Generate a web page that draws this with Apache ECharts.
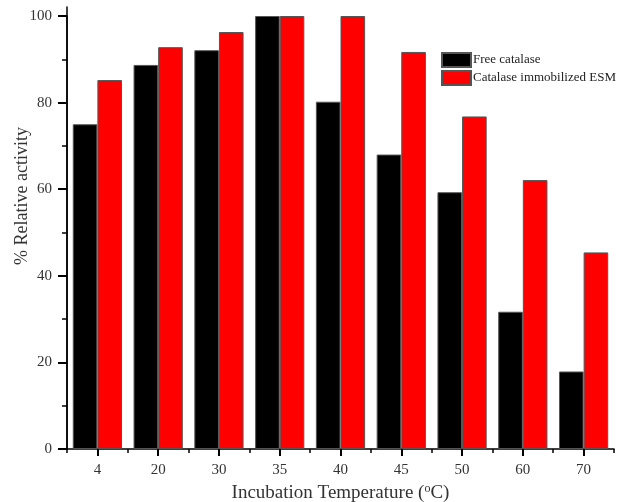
<!DOCTYPE html>
<html>
<head>
<meta charset="utf-8">
<script src="https://cdn.jsdelivr.net/npm/echarts@6/dist/echarts.min.js"></script>
<style>
  html, body { margin: 0; padding: 0; background: #fff; }
  #chart { width: 630px; height: 502px; }
</style>
</head>
<body>
<div id="chart"></div>
<script>
var categories = ['4', '20', '30', '35', '40', '45', '50', '60', '70'];
var freeCatalase = [75.0, 88.7, 92.1, 100, 80.2, 68.0, 59.3, 31.7, 17.9];
var immobilizedESM = [85.2, 92.8, 96.3, 100, 100, 91.7, 76.8, 62.1, 45.4];

var font = 'Liberation Serif';

function initChart(dom) {
  var myChart = echarts.init(dom),
    option = {
      animation: false,
      grid: [{
        left: 67,
        right: 16,
        top: 16,
        bottom: 53,
        outerBoundsMode: 'none'
      }, {
        // only carries the y axis line, which runs a little above 100
        left: 67,
        right: 16,
        top: 7,
        bottom: 53,
        outerBoundsMode: 'none'
      }],
      legend: {
        orient: 'vertical',
        left: 441,
        top: 52,
        padding: 0,
        itemWidth: 29,
        itemHeight: 14,
        itemGap: 2,
        icon: 'rect',
        textStyle: {
          fontFamily: font,
          fontSize: 13,
          color: '#222',
          padding: [0, 0, 0, -3]
        },
        data: ['Free catalase', 'Catalase immobilized ESM']
      },
      xAxis: [{
        type: 'category',
        gridIndex: 0,
        data: categories,
        axisLine: {
          lineStyle: { color: '#000', width: 1.5 }
        },
        axisTick: {
          show: true,
          alignWithLabel: true,
          length: 7,
          lineStyle: { color: '#000', width: 2 }
        },
        axisLabel: {
          fontFamily: font,
          fontSize: 15,
          color: '#333',
          margin: 14
        },
        name: 'Incubation Temperature ({sup|o}C)',
        nameLocation: 'middle',
        nameGap: 33,
        nameTextStyle: {
          fontFamily: font,
          fontSize: 19,
          color: '#333',
          rich: {
            sup: {
              fontFamily: font,
              fontSize: 12,
              color: '#333',
              verticalAlign: 'top',
              padding: [0, 0, 8, 0]
            }
          }
        }
      }, {
        // short ticks between the categories
        type: 'category',
        gridIndex: 0,
        data: categories,
        position: 'bottom',
        axisLine: { show: false },
        axisTick: {
          show: true,
          length: 4,
          lineStyle: { color: '#000', width: 1.5 }
        },
        axisLabel: { show: false }
      }, {
        type: 'category',
        gridIndex: 1,
        data: categories,
        show: false
      }],
      yAxis: [{
        type: 'value',
        gridIndex: 0,
        min: 0,
        max: 100,
        interval: 20,
        axisLine: {
          show: true,
          lineStyle: { color: '#000', width: 1.5 }
        },
        axisTick: {
          show: true,
          length: 9,
          lineStyle: { color: '#000', width: 2 }
        },
        minorTick: {
          show: true,
          splitNumber: 2,
          length: 5,
          lineStyle: { color: '#000', width: 1.5 }
        },
        axisLabel: {
          fontFamily: font,
          fontSize: 15,
          color: '#333',
          margin: 15
        },
        splitLine: { show: false }
      }, {
        type: 'value',
        gridIndex: 1,
        min: 0,
        max: 102,
        axisLine: {
          show: true,
          lineStyle: { color: '#000', width: 1.5 }
        },
        axisTick: { show: false },
        axisLabel: { show: false },
        splitLine: { show: false }
      }],
      graphic: [{
        type: 'text',
        x: 22,
        y: 196,
        rotation: Math.PI / 2,
        style: {
          text: '% Relative activity',
          fontFamily: font,
          fontSize: 18,
          fill: '#333',
          align: 'center',
          verticalAlign: 'middle'
        }
      }],
      series: [{
        name: 'Free catalase',
        type: 'bar',
        xAxisIndex: 0,
        yAxisIndex: 0,
        barGap: '0%',
        barCategoryGap: '19%',
        itemStyle: {
          color: '#000',
          borderColor: '#555',
          borderWidth: 1
        },
        data: freeCatalase
      }, {
        name: 'Catalase immobilized ESM',
        type: 'bar',
        xAxisIndex: 0,
        yAxisIndex: 0,
        itemStyle: {
          color: '#ff0000',
          borderColor: '#555',
          borderWidth: 1
        },
        data: immobilizedESM
      }]
    };
  myChart.setOption(option, true);
}

initChart(document.getElementById('chart'));
</script>
</body>
</html>
